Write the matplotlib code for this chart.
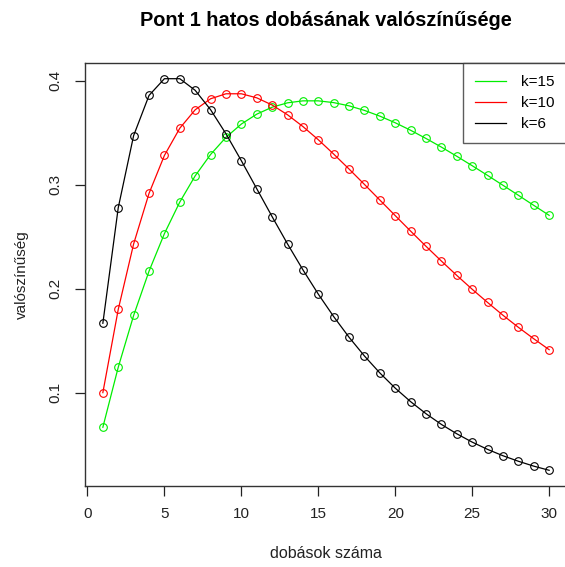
"""
Pont 1 hatos dobásának valószínűsége - R base plot stílusában.
"""
import matplotlib
matplotlib.use('Agg')
import matplotlib.pyplot as plt

plt.rcParams['font.family'] = ['Liberation Sans', 'DejaVu Sans']

# dobások száma
n = list(range(1, 31))

# leolvasott valószínűségek
p_k15 = [0.0667, 0.1244, 0.1742, 0.2168, 0.2529, 0.2833, 0.3085, 0.3290, 0.3455, 0.3583,
         0.3678, 0.3745, 0.3787, 0.3806, 0.3806, 0.3789, 0.3758, 0.3714, 0.3659, 0.3595,
         0.3523, 0.3444, 0.3361, 0.3273, 0.3182, 0.3089, 0.2994, 0.2898, 0.2801, 0.2705]
p_k10 = [0.1000, 0.1800, 0.2430, 0.2916, 0.3281, 0.3543, 0.3720, 0.3826, 0.3874, 0.3874,
         0.3835, 0.3766, 0.3672, 0.3559, 0.3432, 0.3294, 0.3150, 0.3002, 0.2852, 0.2702,
         0.2553, 0.2407, 0.2265, 0.2127, 0.1994, 0.1867, 0.1744, 0.1628, 0.1518, 0.1413]
p_k6 = [0.1667, 0.2778, 0.3472, 0.3858, 0.4019, 0.4019, 0.3907, 0.3721, 0.3489, 0.3230,
        0.2961, 0.2692, 0.2430, 0.2181, 0.1947, 0.1731, 0.1532, 0.1352, 0.1189, 0.1043,
        0.0913, 0.0797, 0.0694, 0.0604, 0.0524, 0.0454, 0.0393, 0.0340, 0.0293, 0.0253]

labels = ['k=15', 'k=10', 'k=6']
colors = ['#00ee00', '#ff0000', '#000000']

fig = plt.figure(figsize=(5.65, 5.67), dpi=100)
ax = fig.add_axes([85/565, 1 - 486/567, 482/565, 423/567])

for y, c, lab in zip([p_k15, p_k10, p_k6], colors, labels):
    ax.plot(n, y, color=c, lw=0.9, marker='o', ms=5.5, mfc='none', mec=c, mew=0.8, label=lab)

ax.set_xlim(-0.16, 31.16)
ax.set_ylim(0.0102, 0.417)
ax.set_xticks([0, 5, 10, 15, 20, 25, 30])
ax.set_yticks([0.1, 0.2, 0.3, 0.4])
ax.set_yticklabels(['0.1', '0.2', '0.3', '0.4'], rotation=90, va='center')
ax.tick_params(direction='out', length=7, width=0.9, labelsize=11, colors='#222222', pad=8)
ax.tick_params(axis='y', pad=9)
for s in ax.spines.values():
    s.set_linewidth(1.0)
    s.set_color('#333333')

ax.set_xlabel('dobások száma', fontsize=11.5, labelpad=18, color='#222222')
ax.set_ylabel('valószínűség', fontsize=11, labelpad=14, color='#222222')
fig.text((85 + 567) / 2 / 565, 1 - 21 / 567, 'Pont 1 hatos dobásának valószínűsége',
         ha='center', va='center', fontsize=14.4, fontweight='bold')

leg = ax.legend(loc='upper right', fontsize=11, frameon=True, fancybox=False,
                borderaxespad=0, handlelength=2.0, handletextpad=1.0, labelspacing=0.45,
                borderpad=0.8)
leg.get_frame().set_edgecolor('#333333')
leg.get_frame().set_linewidth(1.0)
for h in leg.legend_handles:
    h.set_marker('')

fig.savefig('out.png', dpi=100)
plt.close()
